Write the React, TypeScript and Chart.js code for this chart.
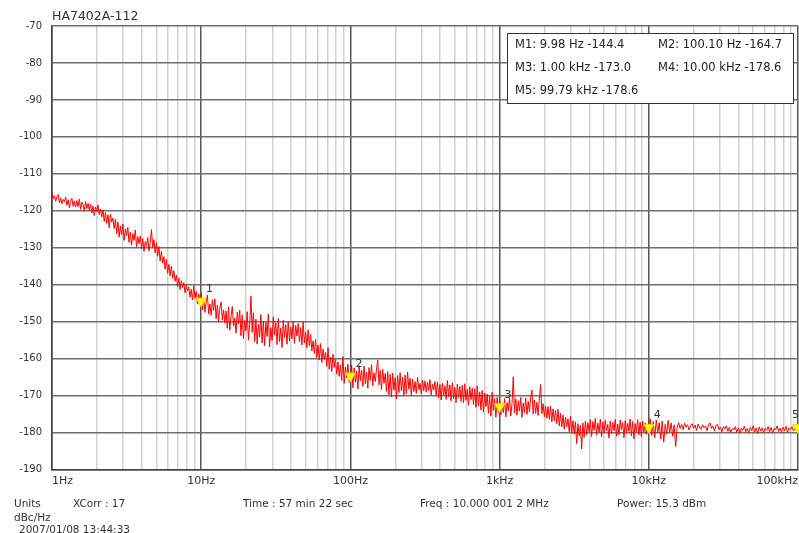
import React, { useEffect, useRef } from 'react';
import { Chart, registerables } from 'chart.js';

Chart.register(...registerables);

// ---- Data (dBc/Hz), sampled evenly in log-frequency within each decade ----
const DECADE_1HZ = [
  -115.3, -116.8, -115.9, -117.4, -116.2, -115.6, -117.9, -116.5, -118.1, -116.9,
  -117.6, -116.3, -118.5, -117.0, -119.2, -117.4, -116.6, -118.8, -117.3, -119.0,
  -117.2, -118.9, -116.8, -119.6, -117.7, -118.3, -120.1, -117.5, -119.4, -118.0,
  -119.8, -118.2, -120.6, -118.7, -121.3, -119.0, -120.2, -118.4, -121.0, -119.5,
  -121.7, -119.8, -122.9, -120.5, -123.4, -121.1, -124.6, -120.9, -123.1, -122.0,
  -124.8, -122.3, -126.2, -123.0, -127.1, -124.1, -126.5, -123.6, -128.0, -124.9,
  -126.7, -124.5, -128.6, -125.8, -129.3, -126.1, -128.0, -125.2, -129.8, -127.0,
  -128.9, -126.8, -130.2, -127.5, -131.0, -128.3, -129.6, -127.2, -130.8, -128.6,
  -125.1, -129.9, -127.8, -131.4, -128.6, -132.3, -129.7, -133.6, -131.0, -134.2,
  -132.4, -135.8, -133.1, -136.9, -134.5, -137.6, -135.0, -138.3, -136.2, -139.1,
  -137.4, -140.5, -138.2, -141.3, -138.9, -140.8, -139.4, -142.2, -140.1, -141.7,
  -140.6, -143.4, -141.2, -144.1, -140.3, -143.7, -141.8, -145.2, -142.5, -144.6,
];
const DECADE_10HZ = [
  -142.3, -146.8, -143.9, -147.5, -144.6, -142.8, -147.9, -145.2, -148.3, -144.1,
  -146.9, -143.8, -149.2, -145.5, -150.1, -146.2, -144.7, -149.6, -146.8, -150.4,
  -147.1, -151.8, -146.0, -152.3, -148.6, -145.9, -151.2, -149.0, -153.1, -147.4,
  -150.6, -146.9, -153.8, -148.2, -154.6, -149.7, -152.5, -147.3, -155.0, -150.8,
  -143.1, -152.9, -147.6, -155.4, -149.3, -156.1, -150.7, -154.2, -148.1, -155.8,
  -149.8, -156.5, -150.2, -154.0, -147.9, -156.8, -151.6, -155.1, -148.7, -153.6,
  -150.3, -156.2, -149.1, -155.4, -151.7, -157.0, -149.6, -154.3, -150.8, -156.1,
  -150.1, -155.2, -151.4, -154.6, -149.8, -155.9, -151.0, -153.9, -150.5, -155.5,
  -151.6, -156.3, -150.0, -155.8, -152.9, -157.1, -152.2, -156.6, -153.4, -157.9,
  -155.2, -158.6, -154.8, -159.7, -156.3, -160.4, -155.9, -161.0, -157.4, -160.2,
  -158.3, -162.1, -157.0, -162.9, -159.6, -163.5, -158.8, -162.4, -160.1, -164.2,
  -160.9, -164.8, -161.7, -165.9, -159.4, -166.7, -162.3, -165.2, -161.5, -166.4,
];
const DECADE_100HZ = [
  -165.8, -161.7, -167.9, -162.5, -166.4, -163.3, -168.2, -161.9, -166.0, -163.1,
  -167.5, -162.0, -166.8, -163.6, -168.0, -162.4, -165.9, -161.6, -167.3, -163.8,
  -166.2, -162.8, -160.4, -167.1, -163.2, -168.4, -162.9, -166.7, -164.0, -168.9,
  -163.5, -169.8, -164.2, -170.4, -163.9, -168.6, -165.1, -170.9, -164.6, -169.2,
  -163.8, -168.7, -165.0, -170.1, -164.4, -169.5, -163.6, -168.2, -165.3, -170.0,
  -165.5, -168.9, -166.2, -169.4, -165.1, -168.4, -166.7, -169.6, -165.8, -168.7,
  -166.0, -169.1, -166.4, -168.6, -165.7, -169.8, -166.9, -168.5, -166.2, -170.0,
  -166.3, -170.6, -167.0, -171.2, -166.6, -169.9, -167.4, -171.0, -165.9, -170.3,
  -167.1, -171.4, -166.5, -170.8, -167.8, -171.9, -166.9, -170.5, -167.5, -171.6,
  -167.2, -172.0, -166.8, -171.3, -168.3, -172.6, -167.6, -171.1, -168.0, -172.4,
  -168.1, -173.2, -167.4, -172.8, -169.0, -173.9, -168.6, -174.5, -169.3, -173.0,
  -169.6, -174.8, -170.2, -175.6, -169.1, -174.0, -170.8, -175.9, -170.5, -174.6,
];
const DECADE_1KHZ = [
  -171.0, -175.2, -172.3, -174.6, -170.8, -175.8, -171.9, -174.1, -170.6, -175.5,
  -172.1, -164.9, -174.7, -170.9, -175.3, -171.4, -174.2, -170.5, -175.9, -172.0,
  -174.6, -170.7, -175.1, -171.6, -174.4, -170.3, -168.5, -175.0, -171.2, -174.8,
  -171.8, -175.4, -170.9, -167.0, -174.9, -172.2, -175.7, -172.8, -176.1, -173.0,
  -176.4, -172.9, -177.1, -173.6, -176.8, -174.0, -177.6, -173.7, -178.2, -174.8,
  -178.5, -175.2, -179.1, -175.9, -178.4, -176.3, -179.8, -175.6, -180.2, -176.8,
  -180.4, -177.1, -183.0, -177.6, -180.9, -178.0, -184.4, -177.4, -181.3, -176.9,
  -180.6, -177.3, -179.8, -176.5, -181.1, -177.0, -179.4, -176.2, -180.7, -177.5,
  -179.9, -176.4, -181.2, -177.1, -180.0, -176.7, -179.6, -177.8, -181.5, -176.9,
  -180.3, -177.2, -179.5, -176.4, -181.0, -177.7, -180.6, -176.6, -179.2, -177.3,
  -181.4, -176.8, -180.1, -177.5, -179.7, -176.3, -180.9, -177.0, -181.7, -177.6,
  -179.8, -176.5, -180.6, -177.2, -181.1, -176.9, -179.9, -177.4, -180.5, -178.1,
];
const DECADE_10KHZ = [
  -178.6, -176.3, -180.8, -177.0, -181.4, -176.6, -180.1, -177.3, -181.8, -176.9,
  -182.6, -177.8, -180.4, -176.7, -179.9, -177.4, -181.0, -177.9, -183.8, -178.6,
  -177.3, -178.9, -177.8, -179.2, -177.5, -178.6, -177.9, -179.3, -178.1, -177.6,
  -178.8, -178.0, -179.4, -177.7, -178.5, -179.1, -177.9, -178.7, -178.2, -179.5,
  -178.0, -177.4, -178.9, -178.3, -179.6, -178.1, -177.8, -179.2, -178.5, -179.8,
  -178.4, -179.0, -178.2, -179.7, -178.6, -180.0, -178.9, -179.3, -178.4, -179.9,
  -178.7, -180.2, -178.8, -179.4, -178.3, -179.8, -178.9, -180.1, -178.6, -179.5,
  -178.2, -179.9, -178.8, -180.3, -178.5, -179.6, -178.7, -180.0, -178.9, -179.4,
  -178.4, -179.8, -178.6, -180.1, -178.9, -179.3, -178.2, -179.7, -178.8, -180.0,
  -178.5, -179.5, -178.3, -179.9, -178.7, -179.2, -178.4, -179.6, -178.9, -179.1,
  -178.6,
];

const MARKER_FREQS = [9.98, 100.1, 1000, 10000, 99790];
const MARKER_LEVELS = [-144.4, -164.7, -173.0, -178.6, -178.6];
const MARKER_FREQ_TEXT = ['9.98 Hz', '100.10 Hz', '1.00 kHz', '10.00 kHz', '99.79 kHz'];
const MARKER_NAMES = ['1', '2', '3', '4', '5'];

const X_TICK_VALUES = [1, 10, 100, 1000, 10000, 100000];
const X_TICK_LABELS = ['1Hz', '10Hz', '100Hz', '1kHz', '10kHz', '100kHz'];
const Y_MIN = -190;
const Y_MAX = -70;
const Y_STEP = 10;

const TITLE = 'HA7402A-112';
const FOOTER_UNITS = 'Units';
const FOOTER_UNITS_VALUE = 'dBc/Hz';
const FOOTER_XCORR = 'XCorr : 17';
const FOOTER_TIME = 'Time : 57 min 22 sec';
const FOOTER_FREQ = 'Freq : 10.000 001 2 MHz';
const FOOTER_POWER = 'Power: 15.3 dBm';
const FOOTER_DATE = '2007/01/08 13:44:33';

const FONT = '"DejaVu Sans", Verdana, sans-serif';

function isDecade(v: number) {
  const l = Math.log10(v);
  return Math.abs(l - Math.round(l)) < 1e-9;
}

function buildTrace() {
  const decades = [DECADE_1HZ, DECADE_10HZ, DECADE_100HZ, DECADE_1KHZ, DECADE_10KHZ];
  const pts: { x: number; y: number }[] = [];
  decades.forEach((arr, d) => {
    const n = d === decades.length - 1 ? arr.length - 1 : arr.length;
    arr.forEach((v, i) => pts.push({ x: Math.pow(10, d + i / n), y: v }));
  });
  return pts;
}

function gridTickValues() {
  const vals: number[] = [];
  for (let d = 0; d < X_TICK_VALUES.length - 1; d++) {
    for (let m = 1; m <= 9; m++) vals.push(m * X_TICK_VALUES[d]);
  }
  vals.push(X_TICK_VALUES[X_TICK_VALUES.length - 1]);
  return vals;
}

const overlayPlugin = {
  id: 'overlay',
  afterDraw(chart: any) {
    const ctx = chart.ctx as CanvasRenderingContext2D;
    const area = chart.chartArea;
    const xs = chart.scales.x;
    const ys = chart.scales.y;
    ctx.save();
    ctx.textBaseline = 'middle';
    ctx.textAlign = 'left';
    ctx.fillStyle = '#333';

    // title
    ctx.font = `12.5px ${FONT}`;
    ctx.fillText(TITLE, area.left, 16.5);

    // marker numbers
    ctx.font = `11px ${FONT}`;
    MARKER_FREQS.forEach((f, i) => {
      const px = xs.getPixelForValue(f);
      const py = ys.getPixelForValue(MARKER_LEVELS[i]);
      const w = ctx.measureText(MARKER_NAMES[i]).width;
      const tx = Math.min(px + 5, chart.width - w);
      ctx.fillText(MARKER_NAMES[i], tx, py - 12);
    });

    // marker readout box
    const bx = 507, by = 33, bw = 286, bh = 70;
    ctx.fillStyle = '#ffffff';
    ctx.fillRect(bx, by, bw, bh);
    ctx.strokeStyle = '#333';
    ctx.lineWidth = 1;
    ctx.strokeRect(bx + 0.5, by + 0.5, bw, bh);
    ctx.fillStyle = '#222';
    ctx.font = `11.5px ${FONT}`;
    const colX = [515, 658];
    const rowY = [45, 68, 91];
    MARKER_FREQS.forEach((_, i) => {
      const text = `M${i + 1}: ${MARKER_FREQ_TEXT[i]} ${MARKER_LEVELS[i].toFixed(1)}`;
      ctx.fillText(text, colX[i % 2], rowY[Math.floor(i / 2)]);
    });
    ctx.restore();
  },
};

function PhaseNoiseChart() {
  const ref = useRef<HTMLCanvasElement | null>(null);
  useEffect(() => {
    if (!ref.current) return;
    const trace = buildTrace();
    const markers = MARKER_FREQS.map((f, i) => ({ x: f, y: MARKER_LEVELS[i] }));
    const ticks = gridTickValues();
    const chart = new Chart(ref.current, {
      type: 'line',
      data: {
        datasets: [
          {
            label: 'markers',
            data: markers,
            showLine: false,
            pointStyle: 'triangle',
            pointRotation: 180,
            pointRadius: 6,
            pointBackgroundColor: '#ffff00',
            pointBorderColor: '#d8d800',
            pointBorderWidth: 1,
            order: 0,
            clip: false as any,
          },
          {
            label: 'L(f)',
            data: trace,
            borderColor: '#ff0000',
            borderWidth: 1,
            pointRadius: 0,
            tension: 0,
            order: 1,
          },
        ],
      },
      plugins: [overlayPlugin],
      options: {
        animation: false,
        responsive: false,
        devicePixelRatio: 1,
        layout: { autoPadding: false, padding: { top: 26, right: 1, left: 0, bottom: 0 } },
        plugins: { legend: { display: false }, tooltip: { enabled: false }, title: { display: false } },
        scales: {
          x: {
            type: 'logarithmic',
            min: X_TICK_VALUES[0],
            max: X_TICK_VALUES[X_TICK_VALUES.length - 1],
            afterBuildTicks: (scale: any) => {
              scale.ticks = ticks.map((v) => ({ value: v }));
            },
            afterFit: (scale: any) => {
              scale.height = 63.5;
              scale.paddingLeft = 0;
              scale.paddingRight = 0;
            },
            grid: {
              drawTicks: false,
              color: (c: any) => (c.tick && isDecade(c.tick.value) ? '#555555' : '#d2d2d2'),
              lineWidth: 1.5,
            },
            border: { display: true, color: '#404040', width: 1.5 },
            ticks: {
              autoSkip: false,
              maxRotation: 0,
              minRotation: 0,
              align: 'inner',
              padding: 5,
              color: '#333',
              font: { family: FONT, size: 11 },
              callback: (v: any) => {
                const idx = X_TICK_VALUES.findIndex((t) => Math.abs(t - Number(v)) < 1e-6 * t);
                return idx >= 0 ? X_TICK_LABELS[idx] : '';
              },
            },
          },
          y: {
            type: 'linear',
            min: Y_MIN,
            max: Y_MAX,
            afterFit: (scale: any) => {
              scale.width = 52;
            },
            grid: { drawTicks: false, color: '#6e6e6e', lineWidth: 1.5 },
            border: { display: true, color: '#404040', width: 1.5 },
            ticks: {
              stepSize: Y_STEP,
              padding: 10,
              color: '#333',
              font: { family: FONT, size: 10 },
            },
          },
        },
      } as any,
    });
    return () => chart.destroy();
  }, []);
  return <canvas ref={ref} width={799} height={533} style={{ display: 'block', width: 799, height: 533 }} />;
}

const footStyle: React.CSSProperties = {
  position: 'absolute',
  fontFamily: FONT,
  fontSize: '10.5px',
  lineHeight: '12px',
  color: '#333',
  whiteSpace: 'nowrap',
};

export default function App() {
  return (
    <div style={{ position: 'absolute', left: 0, top: 0, width: 799, height: 533, overflow: 'hidden', background: '#fff' }}>
      <PhaseNoiseChart />
      <div style={{ ...footStyle, left: 14, top: 497 }}>{FOOTER_UNITS}</div>
      <div style={{ ...footStyle, left: 73, top: 497 }}>{FOOTER_XCORR}</div>
      <div style={{ ...footStyle, left: 243, top: 497 }}>{FOOTER_TIME}</div>
      <div style={{ ...footStyle, left: 420, top: 497 }}>{FOOTER_FREQ}</div>
      <div style={{ ...footStyle, left: 617, top: 497 }}>{FOOTER_POWER}</div>
      <div style={{ ...footStyle, left: 14, top: 511 }}>{FOOTER_UNITS_VALUE}</div>
      <div style={{ ...footStyle, left: 19, top: 523 }}>{FOOTER_DATE}</div>
    </div>
  );
}
